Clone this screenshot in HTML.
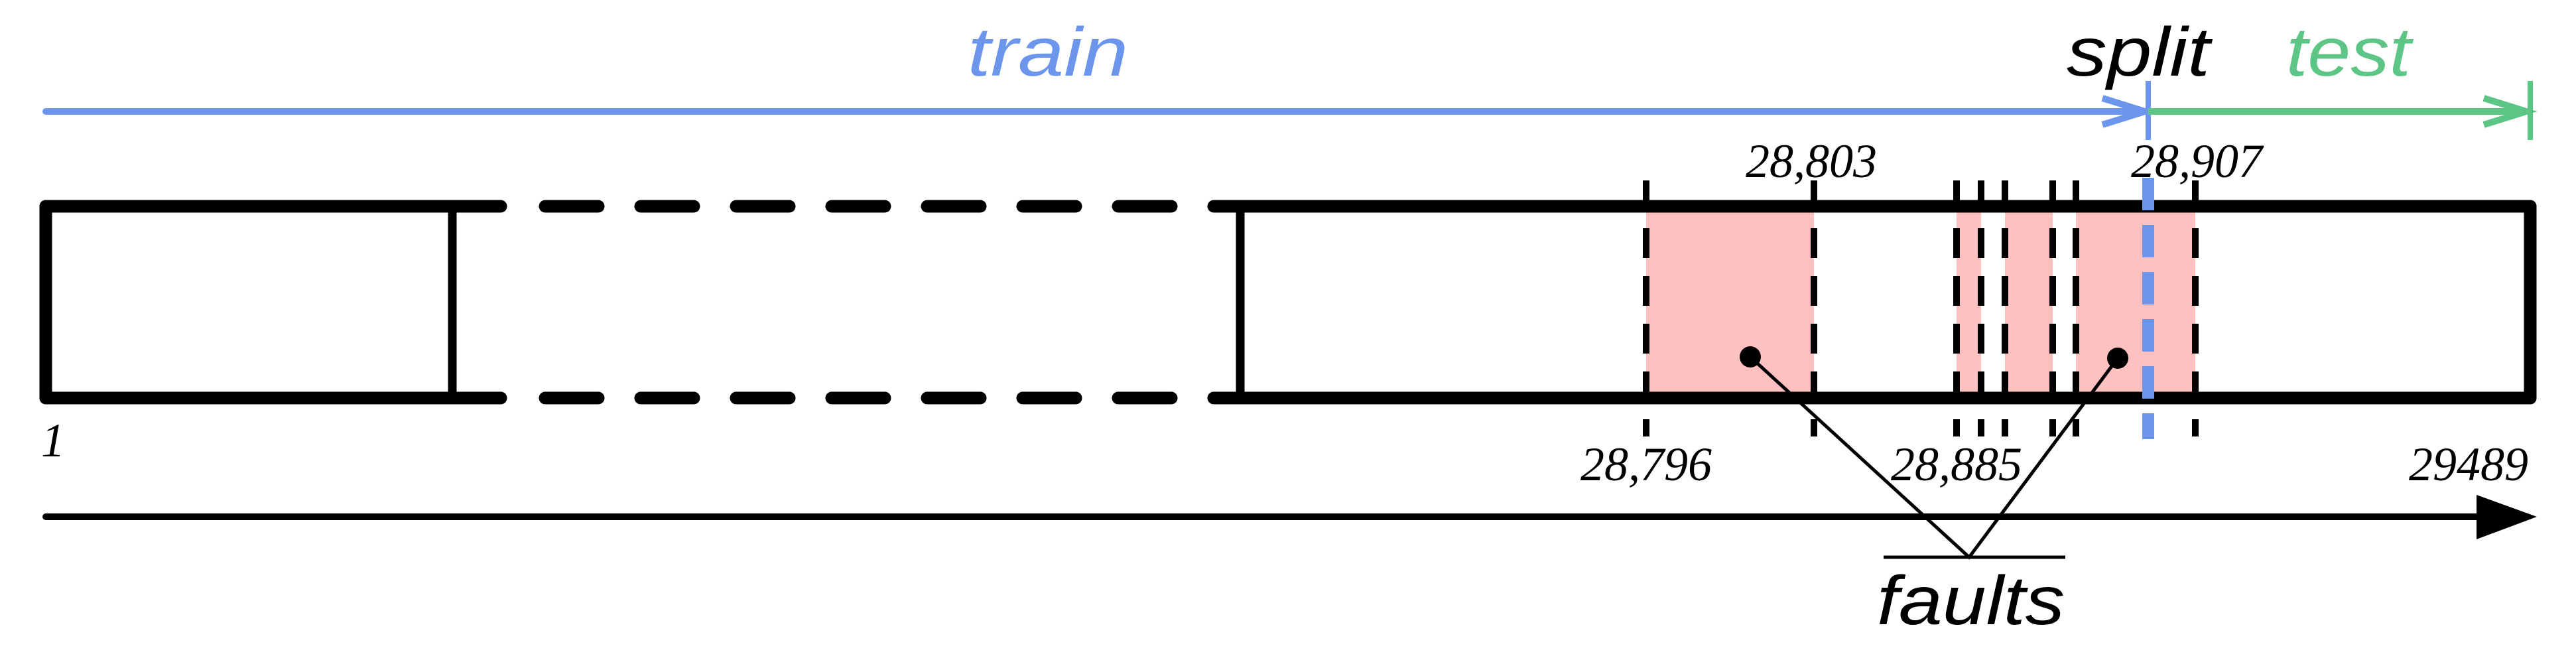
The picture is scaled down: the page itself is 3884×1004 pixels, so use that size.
<!DOCTYPE html>
<html><head><meta charset="utf-8"><style>html,body{margin:0;padding:0;background:#fff}svg{display:block}</style></head>
<body>
<svg width="3884" height="1004" viewBox="0 0 3884 1004" xmlns="http://www.w3.org/2000/svg">
<g fill="#ffc0c0">
<rect x="2482" y="320" width="253" height="272"/>
<rect x="2950" y="320" width="37" height="272"/>
<rect x="3023" y="320" width="72" height="272"/>
<rect x="3130" y="320" width="180" height="272"/>
</g>
<g stroke="#000" stroke-width="10" stroke-dasharray="45 27">
<line x1="2482" y1="272" x2="2482" y2="658"/>
<line x1="2735" y1="272" x2="2735" y2="658"/>
<line x1="2950" y1="272" x2="2950" y2="658"/>
<line x1="2987" y1="272" x2="2987" y2="658"/>
<line x1="3023" y1="272" x2="3023" y2="658"/>
<line x1="3095" y1="272" x2="3095" y2="658"/>
<line x1="3130" y1="272" x2="3130" y2="658"/>
<line x1="3310" y1="272" x2="3310" y2="658"/>
</g>
<!-- box -->
<g stroke="#000" stroke-width="19" stroke-linecap="round" fill="none">
<line x1="69" y1="311" x2="755" y2="311"/>
<line x1="69" y1="600" x2="755" y2="600"/>
<line x1="69" y1="311" x2="69" y2="600"/>
<line x1="1830" y1="311" x2="3815" y2="311"/>
<line x1="1830" y1="600" x2="3815" y2="600"/>
<line x1="3815" y1="311" x2="3815" y2="600"/>
<line x1="822" y1="311" x2="1768" y2="311" stroke-dasharray="80 64"/>
<line x1="822" y1="600" x2="1768" y2="600" stroke-dasharray="80 64"/>
</g>
<line x1="682" y1="311" x2="682" y2="600" stroke="#000" stroke-width="13"/>
<line x1="1870" y1="311" x2="1870" y2="600" stroke="#000" stroke-width="13"/>
<!-- blue split dashed -->
<line x1="3239" y1="268" x2="3239" y2="662" stroke="#6b96ec" stroke-width="18" stroke-dasharray="49 22"/>
<!-- top arrows -->
<line x1="69" y1="168" x2="3236" y2="168" stroke="#6b96ec" stroke-width="10" stroke-linecap="round"/>
<polyline points="3170,148 3234,168 3170,188" fill="none" stroke="#6b96ec" stroke-width="10"/>
<line x1="3239" y1="122" x2="3239" y2="211" stroke="#6b96ec" stroke-width="8"/>
<line x1="3239" y1="168" x2="3810" y2="168" stroke="#5dc585" stroke-width="10"/>
<polyline points="3745,148 3809,168 3745,188" fill="none" stroke="#5dc585" stroke-width="10"/>
<line x1="3815" y1="122" x2="3815" y2="211" stroke="#5dc585" stroke-width="8"/>
<!-- bottom axis -->
<line x1="69" y1="779" x2="3740" y2="779" stroke="#000" stroke-width="10" stroke-linecap="round"/>
<polygon points="3734,746 3825,779 3734,813" fill="#000"/>
<!-- faults -->
<circle cx="2639" cy="538" r="16" fill="#000"/>
<circle cx="3193" cy="540" r="16" fill="#000"/>
<polyline points="2639,538 2969,840 3193,540" fill="none" stroke="#000" stroke-width="5"/>
<line x1="2840" y1="840" x2="3114" y2="840" stroke="#000" stroke-width="5"/>
<!-- labels -->
<g font-family="Liberation Serif, serif" font-style="italic" font-size="72" fill="#000">
<text x="2731" y="267" text-anchor="middle">28,803</text>
<text x="3312" y="267" text-anchor="middle">28,907</text>
<text x="2482" y="724" text-anchor="middle">28,796</text>
<text x="2950" y="724" text-anchor="middle">28,885</text>
<text x="3812" y="724" text-anchor="end">29489</text>
<text x="62" y="688">1</text>
</g>
<g font-family="Liberation Sans, sans-serif" font-style="italic" font-size="104">
<text x="1459" y="114" fill="#6b96ec" textLength="242" lengthAdjust="spacingAndGlyphs">train</text>
<text x="3116" y="114" fill="#000" textLength="216" lengthAdjust="spacingAndGlyphs">split</text>
<text x="3447" y="114" fill="#5dc585" textLength="188" lengthAdjust="spacingAndGlyphs">test</text>
<text x="2830" y="941" fill="#000" textLength="283" lengthAdjust="spacingAndGlyphs">faults</text>
</g>
</svg>
</body></html>
